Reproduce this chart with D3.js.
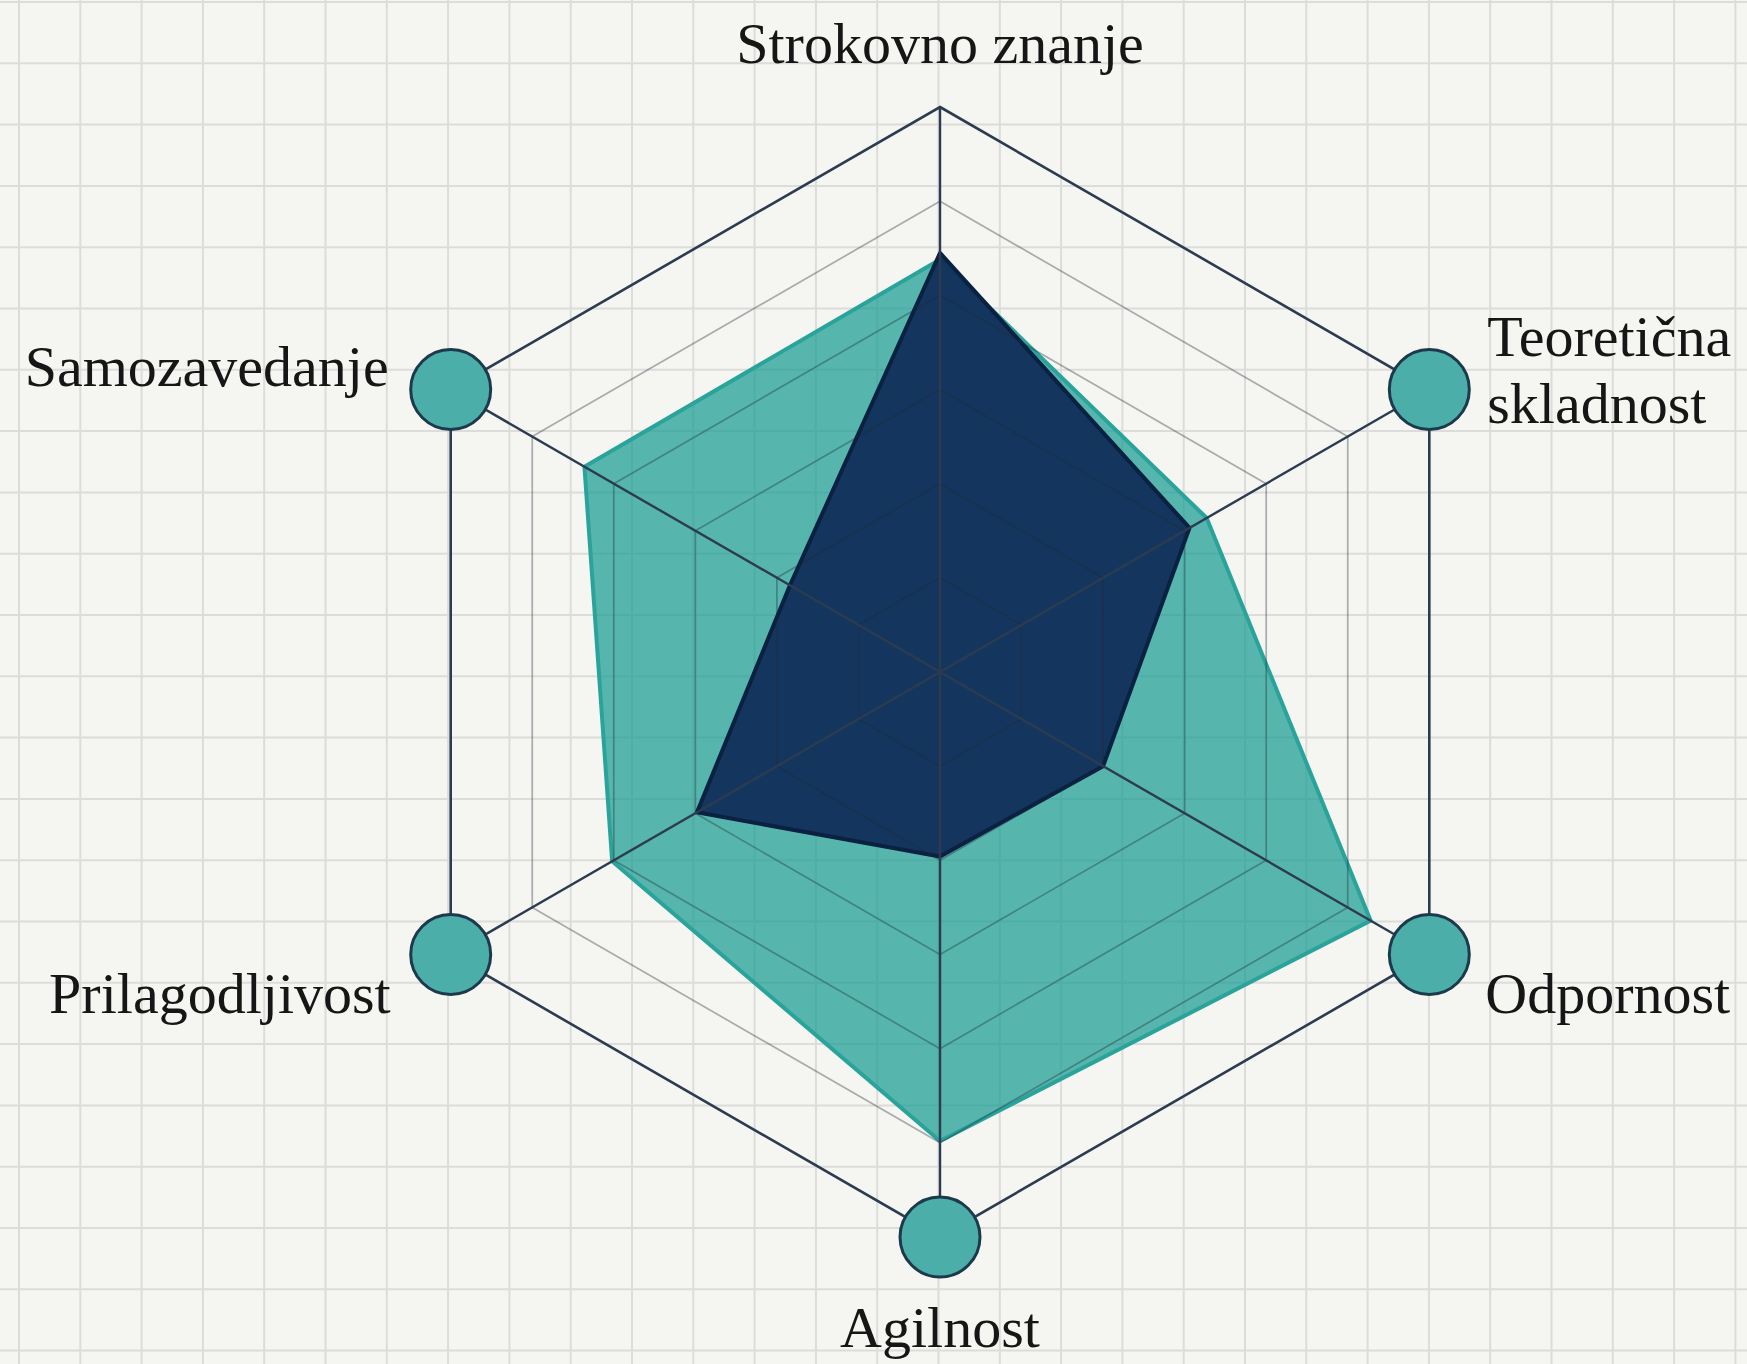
<!DOCTYPE html>
<html>
<head>
<meta charset="utf-8">
<script src="https://cdn.jsdelivr.net/npm/d3@7"></script>
<style>
  html, body { margin: 0; padding: 0; background: #f5f5f2; }
  svg { display: block; }
</style>
</head>
<body>
<svg id="radar"></svg>
<script>
// axes, clockwise from the top
const axes = [
  ["Strokovno znanje"],
  ["Teoretična", "skladnost"],
  ["Odpornost"],
  ["Agilnost"],
  ["Prilagodljivost"],
  ["Samozavedanje"]
];
const levels = [1, 2, 3, 4, 5, 6];
const tealValues = [4.38, 3.27, 5.28, 4.98, 4.02, 4.36];
const navyValues = [4.45, 3.06, 2.0, 1.96, 2.98, 1.84];
const markerShown = [false, true, true, true, true, true];

const width = 1747, height = 1364;
const cx = 940, cy = 672, R = 565;

const svg = d3.select("#radar")
  .attr("width", width)
  .attr("height", height);

// paper background
svg.append("rect").attr("width", width).attr("height", height).attr("fill", "#f5f5f2");
const step = 61.3;
const bg = svg.append("g").attr("stroke", "#dcdcda").attr("stroke-width", 2);
bg.selectAll("line.v")
  .data(d3.range(19, width, step))
  .join("line")
    .attr("x1", d => d).attr("x2", d => d)
    .attr("y1", 0).attr("y2", height);
bg.selectAll("line.h")
  .data(d3.range(2, height, step))
  .join("line")
    .attr("y1", d => d).attr("y2", d => d)
    .attr("x1", 0).attr("x2", width);

const r = d3.scaleLinear().domain([0, 6]).range([0, R]);
const angle = i => -Math.PI / 2 + i * Math.PI / 3;
const pt = (i, v) => [cx + r(v) * Math.cos(angle(i)), cy + r(v) * Math.sin(angle(i))];

const line = d3.line().curve(d3.curveLinearClosed);
const g = svg.append("g");

// series
g.append("path")
  .attr("d", line(tealValues.map((v, i) => pt(i, v))))
  .attr("fill", "#1e9f96")
  .attr("fill-opacity", 0.74)
  .attr("stroke", "#2aa39b")
  .attr("stroke-width", 4)
  .attr("stroke-linejoin", "round");

g.append("path")
  .attr("d", line(navyValues.map((v, i) => pt(i, v))))
  .attr("fill", "#0f2c58")
  .attr("fill-opacity", 0.93)
  .attr("stroke", "#0a2142")
  .attr("stroke-width", 4)
  .attr("stroke-linejoin", "round");

// rings
g.selectAll("path.ring")
  .data(levels.filter(l => l < 6))
  .join("path")
    .attr("class", "ring")
    .attr("d", l => line(axes.map((a, i) => pt(i, l))))
    .attr("fill", "none")
    .attr("stroke", "#1e2a36")
    .attr("stroke-opacity", 0.36)
    .attr("stroke-width", 1.7);

g.append("path")
  .attr("d", line(axes.map((a, i) => pt(i, 6))))
  .attr("fill", "none")
  .attr("stroke", "#2c3b50")
  .attr("stroke-width", 2.6);

// spokes
g.selectAll("line.spoke")
  .data(axes)
  .join("line")
    .attr("x1", cx).attr("y1", cy)
    .attr("x2", (d, i) => pt(i, 6)[0])
    .attr("y2", (d, i) => pt(i, 6)[1])
    .attr("stroke", "#2c3b50")
    .attr("stroke-width", 2.4);

// vertex markers
g.selectAll("circle")
  .data(axes.map((a, i) => i).filter(i => markerShown[i]))
  .join("circle")
    .attr("cx", i => pt(i, 6)[0])
    .attr("cy", i => pt(i, 6)[1])
    .attr("r", 40)
    .attr("fill", "#4caea8")
    .attr("stroke", "#1d3a4c")
    .attr("stroke-width", 3);

// labels
const place = [
  { dx: 0, dy: -44, anchor: "middle" },
  { dx: 58, dy: -34, anchor: "start" },
  { dx: 56, dy: 58, anchor: "start" },
  { dx: 0, dy: 110, anchor: "middle" },
  { dx: -60, dy: 58, anchor: "end" },
  { dx: -62, dy: -4, anchor: "end" }
];
const labels = svg.append("g")
  .attr("font-family", "'Liberation Serif', 'DejaVu Serif', serif")
  .attr("font-size", 58)
  .attr("fill", "#161616");
axes.forEach((lines, i) => {
  const [x, y] = pt(i, 6);
  const t = labels.append("text")
    .attr("x", x + place[i].dx)
    .attr("y", y + place[i].dy)
    .attr("text-anchor", place[i].anchor);
  lines.forEach((s, k) => t.append("tspan")
    .attr("x", x + place[i].dx)
    .attr("dy", k === 0 ? 0 : 67)
    .text(s));
});
</script>
</body>
</html>
